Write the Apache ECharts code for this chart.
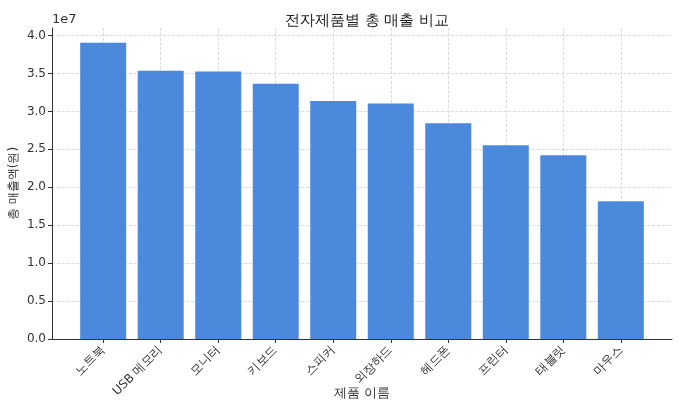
<html lang="ko">
<head>
    <meta charset="UTF-8">
    <title>전자제품별 총 매출 비교</title>
    <script src="https://cdn.jsdelivr.net/npm/echarts@6/dist/echarts.min.js"></script>
</head>
<style>
    html, body { margin: 0; padding: 0; background: #fff; }
    #container { width: 682px; height: 409px; }
</style>
<body>
<div id="container"></div>
<script>
    // 데이터 (단위: 1e7 원)
    const categories = ['노트북', 'USB 메모리', '모니터', '키보드', '스피커', '외장하드', '헤드폰', '프린터', '태블릿', '마우스'];
    const sales = [3.907, 3.536, 3.526, 3.364, 3.138, 3.106, 2.845, 2.553, 2.421, 1.815];
    const yTicks = [0, 0.5, 1.0, 1.5, 2.0, 2.5, 3.0, 3.5, 4.0];
    const xTicks = [0, 1, 2, 3, 4, 5, 6, 7, 8, 9];

    const font = 'DejaVu Sans, sans-serif';
    var chart = echarts.init(document.getElementById('container'));

    var option = {
        animation: false,
        title: {
            text: '전자제품별 총 매출 비교',
            left: 362,
            textAlign: 'center',
            top: 9,
            textStyle: { fontFamily: font, fontSize: 15, fontWeight: 'normal', color: '#222' }
        },
        graphic: [{
            type: 'text',
            left: 52,
            top: 13,
            style: { text: '1e7', font: '13px DejaVu Sans', fill: '#333' }
        }],
        grid: { left: 52, right: 10, top: 28, bottom: 70, containLabel: false, outerBoundsMode: 'none' },
        xAxis: {
            type: 'value',
            min: -0.89,
            max: 9.89,
            name: '제품 이름',
            nameLocation: 'middle',
            nameGap: 48,
            nameMoveOverlap: false,
            nameTextStyle: { fontFamily: font, fontSize: 13, color: '#333' },
            axisLine: { show: true, onZero: false, lineStyle: { color: '#333', width: 1 } },
            axisTick: { show: true, customValues: xTicks, length: 4, lineStyle: { color: '#333' } },
            axisLabel: {
                customValues: xTicks,
                rotate: 45,
                margin: 9,
                fontFamily: font,
                fontSize: 12,
                color: '#333',
                formatter: function (v) { return categories[Math.round(v)]; }
            },
            splitLine: { show: true, lineStyle: { color: '#d0d0d0', type: 'dashed', width: 0.8 } }
        },
        yAxis: {
            type: 'value',
            min: 0,
            max: 4.1,
            name: '총 매출액(원)',
            nameLocation: 'middle',
            nameRotate: 90,
            nameGap: 32,
            nameMoveOverlap: false,
            nameTextStyle: { fontFamily: font, fontSize: 12, color: '#333' },
            axisLine: { show: true, onZero: false, lineStyle: { color: '#333', width: 1 } },
            axisTick: { show: true, customValues: yTicks, length: 4, lineStyle: { color: '#333' } },
            axisLabel: {
                customValues: yTicks,
                fontFamily: font,
                fontSize: 12,
                color: '#333',
                margin: 6,
                formatter: function (v) { return v.toFixed(1); }
            },
            splitLine: { show: true, lineStyle: { color: '#d0d0d0', type: 'dashed', width: 0.8 } }
        },
        series: [{
            type: 'bar',
            barWidth: 46,
            data: sales.map(function (v, i) { return [i, v]; }),
            itemStyle: { color: '#4a89dc' }
        }]
    };

    chart.setOption(option);
</script>
</body>
</html>
